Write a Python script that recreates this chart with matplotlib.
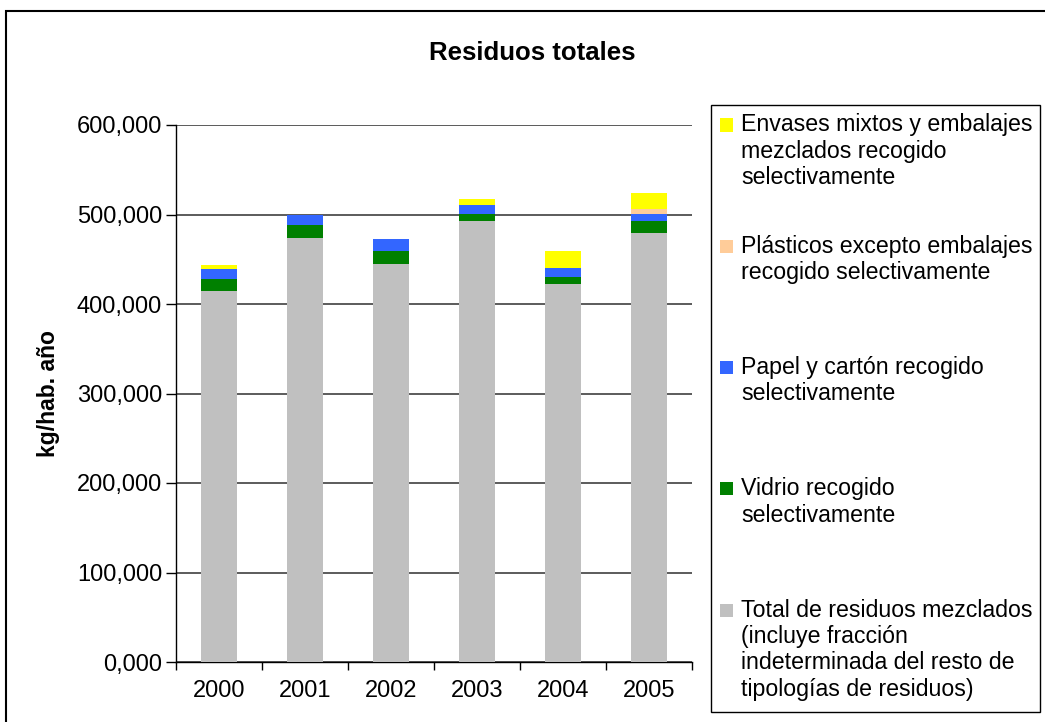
import matplotlib
matplotlib.use("Agg")
import matplotlib.pyplot as plt
from matplotlib.patches import Rectangle
import numpy as np

plt.rcParams['font.family'] = ['Liberation Sans', 'DejaVu Sans']

years = ['2000', '2001', '2002', '2003', '2004', '2005']
mezclados = [414.2, 473.2, 444.3, 492.2, 421.9, 478.8]
vidrio = [13.3, 15.6, 14.5, 8.9, 7.8, 13.4]
papel = [11.2, 11.2, 13.4, 10.0, 10.1, 8.9]
plasticos = [0.0, 0.0, 0.0, 0.0, 0.0, 4.5]
envases = [4.4, 0.0, 0.0, 6.7, 19.0, 18.9]

series = [
    ("Total de residuos mezclados\n(incluye fracción\nindeterminada del resto de\ntipologías de residuos)", mezclados, '#C0C0C0'),
    ("Vidrio recogido\nselectivamente", vidrio, '#008000'),
    ("Papel y cartón recogido\nselectivamente", papel, '#3366FF'),
    ("Plásticos excepto embalajes\nrecogido selectivamente", plasticos, '#FFCC99'),
    ("Envases mixtos y embalajes\nmezclados recogido\nselectivamente", envases, '#FFFF00'),
]

W, H = 1045, 722
fig = plt.figure(figsize=(W / 100, H / 100), dpi=100)
def fx(px): return px / W
def fy(py): return 1 - py / H

ax = fig.add_axes([fx(176), fy(662), fx(692) - fx(176), fy(125) - fy(662)])
x = np.arange(len(years))
bottom = np.zeros(len(years))
for label, vals, col in series:
    v = np.array(vals)
    ax.bar(x, v, width=0.41, bottom=bottom, color=col, edgecolor='none', zorder=3)
    bottom += v

ax.set_xlim(-0.5, len(years) - 0.5)
ax.set_ylim(0, 600)
ticks = np.arange(0, 601, 100)
ax.set_yticks(ticks)
ax.set_yticklabels([f"{t:.3f}".replace('.', ',') for t in ticks], fontsize=17)
ax.set_xticks(x)
ax.set_xticklabels(years, fontsize=17)
ax.set_xticks(np.arange(-0.5, len(years)), minor=True)
ax.tick_params(axis='x', which='major', length=0, pad=13)
ax.tick_params(axis='x', which='minor', length=6, width=1, color='black', direction='out')
ax.tick_params(axis='y', length=7, width=1, color='black', direction='out', pad=3)
ax.yaxis.grid(True, color='#404040', linewidth=1.2, zorder=0)
for s in ['top', 'right']:
    ax.spines[s].set_visible(False)
ax.spines['left'].set_color('black')
ax.spines['bottom'].set_color('black')
ax.spines['left'].set_linewidth(1)
ax.spines['bottom'].set_linewidth(1)
ax.set_ylabel('kg/hab. año', fontsize=16.5, fontweight='bold', labelpad=12)

fig.text(fx(532), fy(53), 'Residuos totales', fontsize=18.5, fontweight='bold',
         ha='center', va='center')

# outer chart frame
fig.patches.append(Rectangle((fx(6), fy(740)), fx(1060) - fx(6), fy(11) - fy(740),
                             transform=fig.transFigure, fill=False, edgecolor='black',
                             linewidth=1.5, clip_on=False))
# legend box
fig.patches.append(Rectangle((fx(711), fy(712)), fx(1040) - fx(711), fy(105) - fy(712),
                             transform=fig.transFigure, fill=False, edgecolor='black',
                             linewidth=1.0))
first_line = 125
pitch = 121.3
line_h = 26.3
for i, (label, vals, col) in enumerate(reversed(series)):
    y0 = first_line + i * pitch
    fig.patches.append(Rectangle((fx(720), fy(y0 + 6.5)), fx(13), 13 / H,
                                 transform=fig.transFigure, facecolor=col, edgecolor='none'))
    for j, line in enumerate(label.split('\n')):
        fig.text(fx(741), fy(y0 + j * line_h), line, fontsize=16.7, ha='left', va='center')

fig.savefig('out.png', dpi=100)
